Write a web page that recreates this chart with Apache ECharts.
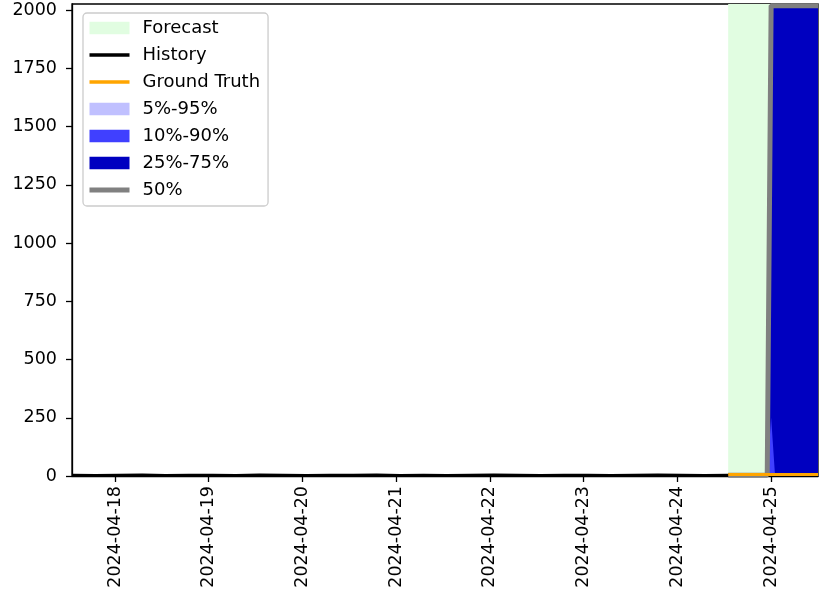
<!DOCTYPE html>
<html>
<head>
<meta charset="utf-8">
<script src="https://cdn.jsdelivr.net/npm/echarts@6/dist/echarts.min.js"></script>
<style>
  html, body { margin: 0; padding: 0; background: #fff; }
  #chart { width: 837px; height: 613px; }
</style>
</head>
<body>
<div id="chart"></div>
<script>
// history: every 6 hours from 2024-04-17 13:00 to 2024-04-24 13:00 (UTC)
var histStart = Date.UTC(2024, 3, 17, 13);
var histStepH = 6;
var historyValues = [3, 2, 3, 4, 2, 3, 3, 2, 4, 3, 2, 3, 3, 4, 2,
                     3, 2, 3, 4, 3, 2, 3, 3, 2, 3, 4, 3, 2, 3];

// forecast: hourly from 2024-04-24 13:00 to 2024-04-25 12:00
var fcStart = Date.UTC(2024, 3, 24, 13);
var fcStepH = 1;
var q05 = [0, 0, 0, 0, 0, 0, 0, 0, 0, 0, 0, 0, 0, 0, 0, 0, 0, 0, 0, 0, 0, 0, 0, 0];
var q10 = [0, 0, 0, 0, 0, 0, 0, 0, 0, 0, 0, 0, 0, 0, 0, 0, 0, 0, 0, 0, 0, 0, 0, 0];
var q25 = [1, 1, 1, 1, 1, 1, 1, 1, 1, 1, 1, 250, 2, 2, 2, 2, 2, 2, 2, 2, 2, 2, 2, 2];
var q50 = [3, 3, 3, 3, 3, 3, 3, 3, 3, 3, 3, 2020, 2020, 2020, 2020, 2020, 2020, 2020, 2020, 2020, 2020, 2020, 2020, 2020];
var q75 = [5, 5, 5, 5, 5, 5, 5, 5, 5, 5, 5, 2015, 2015, 2015, 2015, 2015, 2015, 2015, 2015, 2015, 2015, 2015, 2015, 2015];
var q90 = [7, 7, 7, 7, 7, 7, 7, 7, 7, 7, 7, 2020, 2020, 2020, 2020, 2020, 2020, 2020, 2020, 2020, 2020, 2020, 2020, 2020];
var q95 = [9, 9, 9, 9, 9, 9, 9, 9, 9, 9, 9, 2022, 2022, 2022, 2022, 2022, 2022, 2022, 2022, 2022, 2022, 2022, 2022, 2022];
var truth = [6, 6, 6, 6, 6, 6, 6, 6, 6, 6, 6, 6, 6, 6, 6, 6, 6, 6, 6, 6, 6, 6, 6, 6];

var xTickDays = ['2024-04-18', '2024-04-19', '2024-04-20', '2024-04-21',
                 '2024-04-22', '2024-04-23', '2024-04-24', '2024-04-25'];
var yTicks = [0, 250, 500, 750, 1000, 1250, 1500, 1750, 2000];

var HOUR = 3600 * 1000;
var xMin = histStart;
var xMax = fcStart + (q50.length - 1) * fcStepH * HOUR;
var yMax = 2027;

function dayMs(s) {
  var p = s.split('-');
  return Date.UTC(+p[0], +p[1] - 1, +p[2]);
}
function fmtDay(v) {
  var d = new Date(v);
  var m = d.getUTCMonth() + 1, dd = d.getUTCDate();
  return d.getUTCFullYear() + '-' + (m < 10 ? '0' : '') + m + '-' + (dd < 10 ? '0' : '') + dd;
}
function pairs(start, stepH, vals) {
  return vals.map(function (v, i) { return [start + i * stepH * HOUR, v]; });
}
// value first so that stacking happens on the y dimension
function pairsYX(start, stepH, vals) {
  return vals.map(function (v, i) { return [v, start + i * stepH * HOUR]; });
}
function diff(hi, lo) {
  return hi.map(function (v, i) { return v - lo[i]; });
}

var FONT = 'DejaVu Sans';
var xTickVals = xTickDays.map(dayMs);

function base(name, stack, vals) {
  return {
    name: name, type: 'line', stack: stack, symbol: 'none', silent: true,
    lineStyle: { width: 0, opacity: 0 }, z: 10,
    encode: { x: 1, y: 0 },
    data: pairsYX(fcStart, fcStepH, vals)
  };
}
function band(name, stack, color, vals, z) {
  return {
    name: name, type: 'line', stack: stack, symbol: 'none', silent: true,
    itemStyle: { color: color },
    lineStyle: { width: 0, opacity: 0 },
    areaStyle: { color: color, opacity: 1 }, z: z,
    encode: { x: 1, y: 0 },
    data: pairsYX(fcStart, fcStepH, vals)
  };
}
function lineLegend(name, w) {
  return { name: name, itemStyle: { opacity: 0 }, lineStyle: { width: w } };
}

var chart = echarts.init(document.getElementById('chart'));
chart.setOption({
  animation: false,
  grid: {
    left: 72, right: 19, top: 4, bottom: 137,
    show: true, borderColor: '#000', borderWidth: 1.3, backgroundColor: 'transparent'
  },
  legend: {
    orient: 'vertical', left: 83, top: 13,
    padding: [6, 8, 7, 4],
    itemWidth: 40, itemHeight: 12.5, itemGap: 9,
    backgroundColor: 'rgba(255,255,255,0.8)',
    borderColor: '#cccccc', borderWidth: 1.3, borderRadius: 4,
    textStyle: { fontFamily: FONT, fontSize: 18, color: '#000', lineHeight: 18, padding: [0, 0, 0, 8] },
    data: [
      { name: 'Forecast', icon: 'rect' },
      lineLegend('History', 3.5),
      lineLegend('Ground Truth', 3.5),
      { name: '5%-95%', icon: 'rect' },
      { name: '10%-90%', icon: 'rect' },
      { name: '25%-75%', icon: 'rect' },
      lineLegend('50%', 5)
    ]
  },
  xAxis: {
    type: 'value', min: xMin, max: xMax,
    splitLine: { show: false },
    axisLine: { show: true, onZero: false, lineStyle: { color: '#000', width: 1.3 } },
    axisTick: { show: true, length: 6, lineStyle: { color: '#000', width: 1.3 }, customValues: xTickVals },
    axisLabel: {
      rotate: 90, margin: 10, fontFamily: FONT, fontSize: 17.5, color: '#000',
      customValues: xTickVals, formatter: fmtDay
    }
  },
  yAxis: {
    type: 'value', min: 0, max: yMax,
    splitLine: { show: false },
    axisLine: { show: true, lineStyle: { color: '#000', width: 1.3 } },
    axisTick: { show: true, length: 6, lineStyle: { color: '#000', width: 1.3 }, customValues: yTicks },
    axisLabel: {
      margin: 15, fontFamily: FONT, fontSize: 17.5, color: '#000', customValues: yTicks,
      formatter: function (v) { return String(v); }
    }
  },
  series: [
    {
      name: 'Forecast', type: 'line', data: [], symbol: 'none', z: 0,
      itemStyle: { color: '#e1fde1' },
      markArea: {
        silent: true, z: 0,
        itemStyle: { color: '#e1fde1' },
        data: [[{ xAxis: fcStart }, { xAxis: xMax }]]
      }
    },
    base('_q05', 's1', q05),
    band('5%-95%', 's1', '#c0c0ff', diff(q95, q05), 11),
    base('_q10', 's2', q10),
    band('10%-90%', 's2', '#4040ff', diff(q90, q10), 12),
    base('_q25', 's3', q25),
    band('25%-75%', 's3', '#0000c0', diff(q75, q25), 13),
    {
      name: '50%', type: 'line', symbol: 'none', z: 14,
      itemStyle: { color: '#808080' },
      lineStyle: { color: '#808080', width: 5 },
      data: pairs(fcStart, fcStepH, q50)
    },
    {
      name: 'Ground Truth', type: 'line', symbol: 'none', z: 15,
      itemStyle: { color: '#ffa500' },
      lineStyle: { color: '#ffa500', width: 3 },
      data: pairs(fcStart, fcStepH, truth)
    },
    {
      name: 'History', type: 'line', symbol: 'none', z: 15,
      itemStyle: { color: '#000' },
      lineStyle: { color: '#000', width: 3 },
      data: pairs(histStart, histStepH, historyValues)
    }
  ]
});
</script>
</body>
</html>
